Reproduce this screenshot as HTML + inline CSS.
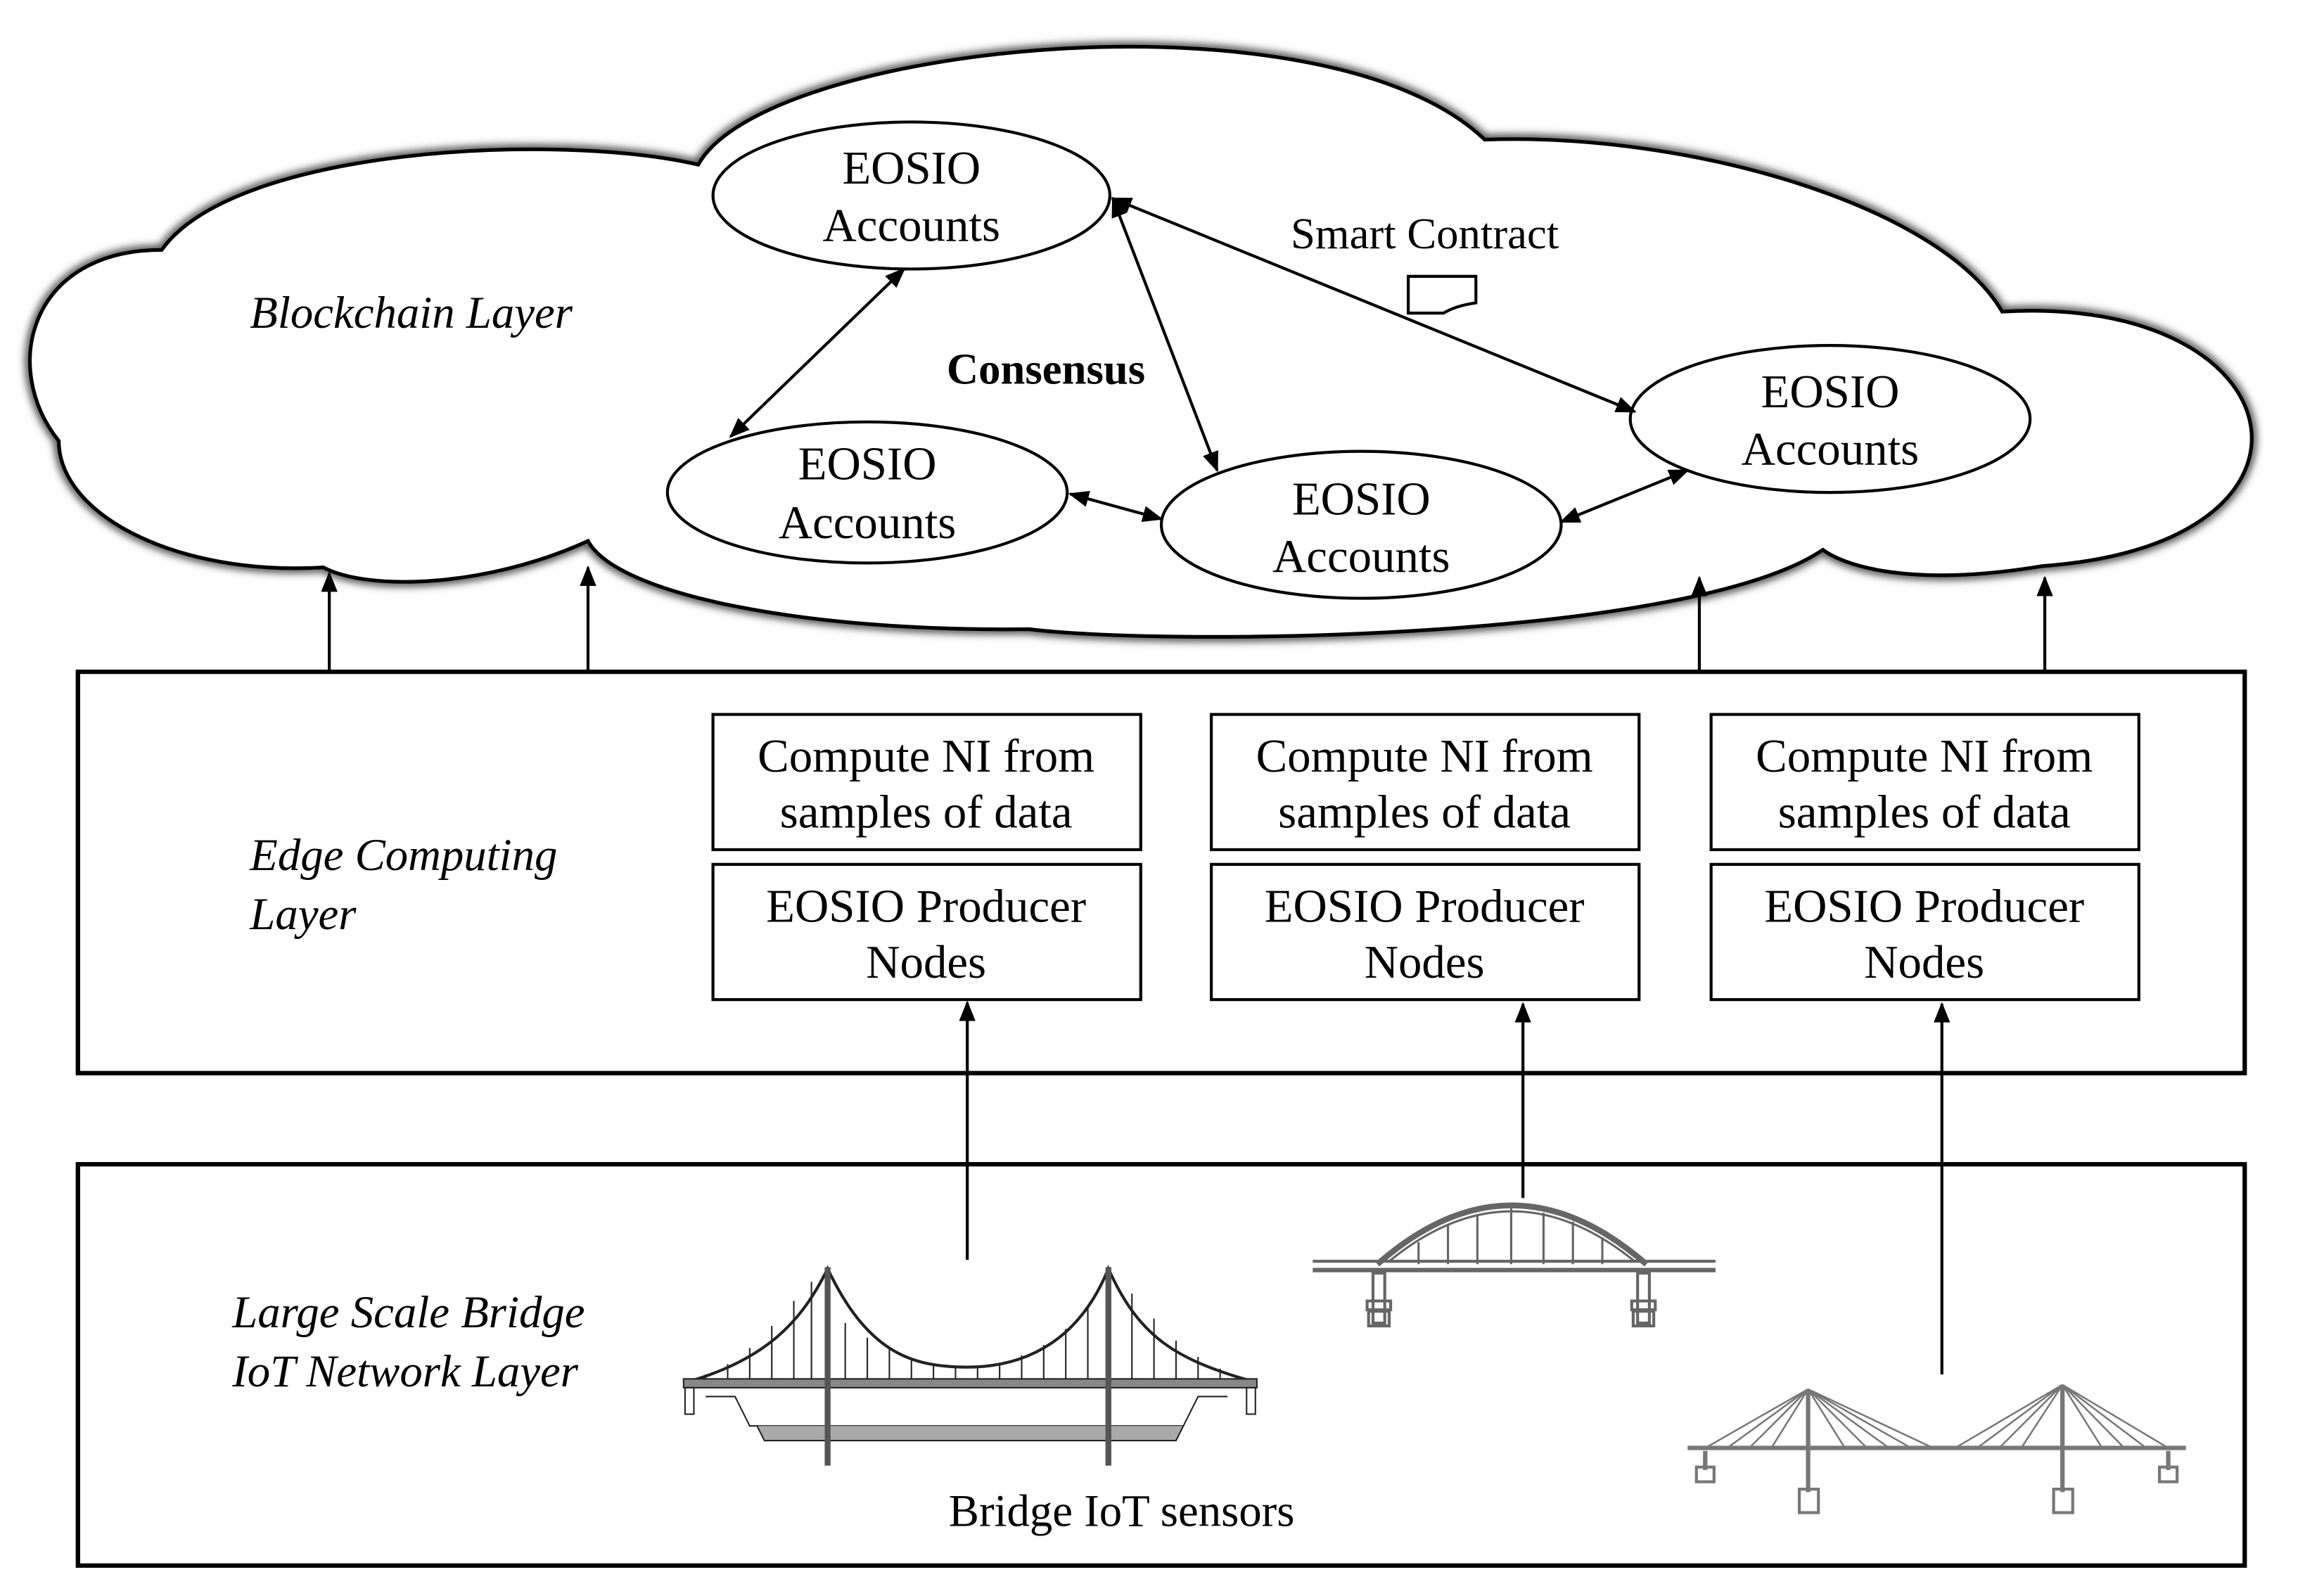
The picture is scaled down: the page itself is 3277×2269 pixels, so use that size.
<!DOCTYPE html>
<html><head><meta charset="utf-8"><style>
html,body{margin:0;padding:0;background:#fff}
svg{display:block}
text{font-family:"Liberation Serif",serif;fill:#000}
</style></head><body>
<svg width="3277" height="2269" viewBox="0 0 1568 1085.7" xmlns="http://www.w3.org/2000/svg">
<defs>
<marker id="a" viewBox="0 0 10 10" refX="9" refY="5" markerWidth="7" markerHeight="7" orient="auto-start-reverse"><path d="M0,1 L10,5 L0,9 z" fill="#000"/></marker>
<filter id="bl"><feGaussianBlur stdDeviation="2.5"/></filter>
</defs>
<rect width="1570" height="1090" fill="#fff"/>
<path d="M40,300 C0,250 20,170 110,170 C160,100 380,90 475,112 C520,30 900,-10 1010,95 C1150,90 1320,140 1362,212 C1565,200 1600,370 1390,385 C1300,400 1255,385 1240,374 C1150,435 800,440 700,428 C550,430 420,405 400,368 C330,400 250,402 220,386 C120,392 40,350 40,300 Z" fill="#fff" stroke="#555" stroke-width="7" filter="url(#bl)"/>
<path d="M40,300 C0,250 20,170 110,170 C160,100 380,90 475,112 C520,30 900,-10 1010,95 C1150,90 1320,140 1362,212 C1565,200 1600,370 1390,385 C1300,400 1255,385 1240,374 C1150,435 800,440 700,428 C550,430 420,405 400,368 C330,400 250,402 220,386 C120,392 40,350 40,300 Z" fill="#fff" stroke="#000" stroke-width="2.5"/>
<text x="170" y="223" font-size="31" font-style="italic">Blockchain Layer</text>
<g fill="#fff" stroke="#000" stroke-width="2">
<ellipse cx="620" cy="133" rx="135" ry="50"/>
<ellipse cx="590" cy="335" rx="136" ry="48"/>
<ellipse cx="926" cy="357" rx="136" ry="50"/>
<ellipse cx="1245" cy="285" rx="136" ry="50"/>
</g>
<g font-size="32" text-anchor="middle">
<text x="620" y="125">EOSIO</text><text x="620" y="164">Accounts</text>
<text x="590" y="326">EOSIO</text><text x="590" y="366">Accounts</text>
<text x="926" y="350">EOSIO</text><text x="926" y="389">Accounts</text>
<text x="1245" y="277">EOSIO</text><text x="1245" y="316">Accounts</text>
</g>
<text x="878" y="169" font-size="30">Smart Contract</text>
<text x="644" y="261" font-size="30" font-weight="bold">Consensus</text>
<path d="M958,188 L1004,188 L1004,206 Q990,208 982,213 L958,213 Z" fill="#fff" stroke="#000" stroke-width="2"/>
<g stroke="#000" stroke-width="2" marker-start="url(#a)" marker-end="url(#a)">
<line x1="615" y1="183" x2="497" y2="297"/>
<line x1="757" y1="135" x2="828" y2="320"/>
<line x1="757" y1="135" x2="1112" y2="280"/>
<line x1="728" y1="336" x2="790" y2="353"/>
<line x1="1062" y1="355" x2="1148" y2="320"/>
</g>
<g stroke="#000" stroke-width="2" marker-end="url(#a)">
<line x1="224" y1="456" x2="224" y2="390"/>
<line x1="400" y1="456" x2="400" y2="386"/>
<line x1="1156" y1="456" x2="1156" y2="393"/>
<line x1="1391" y1="456" x2="1391" y2="393"/>
</g>
<rect x="53" y="457" width="1474" height="273" fill="none" stroke="#000" stroke-width="3"/>
<text x="170" y="592" font-size="31" font-style="italic">Edge Computing</text>
<text x="170" y="632" font-size="31" font-style="italic">Layer</text>
<g fill="#fff" stroke="#000" stroke-width="2">
<rect x="485" y="486" width="291" height="92"/><rect x="485" y="588" width="291" height="92"/>
<rect x="824" y="486" width="291" height="92"/><rect x="824" y="588" width="291" height="92"/>
<rect x="1164" y="486" width="291" height="92"/><rect x="1164" y="588" width="291" height="92"/>
</g>
<g font-size="32" text-anchor="middle">
<text x="630" y="525">Compute NI from</text><text x="630" y="563">samples of data</text>
<text x="630" y="627">EOSIO Producer</text><text x="630" y="665">Nodes</text>
<text x="969" y="525">Compute NI from</text><text x="969" y="563">samples of data</text>
<text x="969" y="627">EOSIO Producer</text><text x="969" y="665">Nodes</text>
<text x="1309" y="525">Compute NI from</text><text x="1309" y="563">samples of data</text>
<text x="1309" y="627">EOSIO Producer</text><text x="1309" y="665">Nodes</text>
</g>
<rect x="53" y="792" width="1474" height="273" fill="none" stroke="#000" stroke-width="3"/>
<text x="158" y="903" font-size="31" font-style="italic">Large Scale Bridge</text>
<text x="158" y="943" font-size="31" font-style="italic">IoT Network Layer</text>
<text x="763" y="1038" font-size="31" text-anchor="middle">Bridge IoT sensors</text>
<g stroke="#000" stroke-width="2" marker-end="url(#a)">
<line x1="658" y1="857" x2="658" y2="682"/>
<line x1="1036" y1="815" x2="1036" y2="683"/>
<line x1="1321" y1="935" x2="1321" y2="683"/>
</g>
<g stroke="#222" fill="none">
<g stroke-width="1">
<path d="M575,900 L575,938 M590,910 L590,938 M605,918 L605,938 M620,924 L620,938 M635,928 L635,938 M650,929 L650,938 M665,929 L665,938 M680,927 L680,938 M695,922 L695,938 M710,915 L710,938 M725,904 L725,938 M740,888 L740,938"/>
<path d="M480,935 L480,938 M495,928 L495,938 M510,917 L510,938 M525,902 L525,938 M540,885 L540,938 M552,872 L552,938 M770,880 L770,938 M785,897 L785,938 M800,912 L800,938 M815,923 L815,938 M830,931 L830,938"/>
</g>
<path d="M468,940 C520,925 545,900 563,863 C590,920 620,930 658,930 C700,930 735,910 754,863 C775,910 800,925 853,940" stroke-width="2"/>
<rect x="465" y="938" width="390" height="6" fill="#888" stroke-width="1"/>
<path d="M480,950 L500,950 L510,970 L805,970 L815,950 L835,950" stroke-width="1"/>
<path d="M515,970 L520,980 L800,980 L805,970" fill="#aaa" stroke-width="1"/>
<rect x="561" y="862" width="4" height="135" fill="#555" stroke-width="0"/>
<rect x="752" y="862" width="4" height="135" fill="#555" stroke-width="0"/>
<rect x="466" y="944" width="6" height="18" stroke-width="1"/>
<rect x="848" y="944" width="6" height="18" stroke-width="1"/>
</g>
<g stroke="#666" fill="none">
<path d="M937,860 Q1028,780 1120,860" stroke-width="4"/>
<path d="M945,858 Q1028,790 1112,858" stroke-width="1.5"/>
<g stroke-width="1.5"><path d="M965,845 V860 M985,833 V860 M1005,826 V860 M1028,822 V860 M1050,825 V860 M1070,831 V860 M1090,842 V860"/></g>
<line x1="893" y1="858" x2="1167" y2="858" stroke-width="2"/>
<line x1="893" y1="864" x2="1167" y2="864" stroke-width="3"/>
<path d="M934,866 h8 v34 h-8 z M930,885 h16 v6 h-16 z M931,892 h14 v10 h-14 z" stroke-width="2"/>
<path d="M1114,866 h8 v34 h-8 z M1110,885 h16 v6 h-16 z M1111,892 h14 v10 h-14 z" stroke-width="2"/>
</g>
<g stroke="#777" fill="none" stroke-width="1.2">
<line x1="1148" y1="985" x2="1487" y2="985" stroke-width="3"/>
<path d="M1230,945 L1160,985 M1230,945 L1175,985 M1230,945 L1190,985 M1230,945 L1205,985 M1230,945 L1255,985 M1230,945 L1270,985 M1230,945 L1285,985 M1230,945 L1300,985 M1230,945 L1315,985"/>
<path d="M1403,942 L1330,985 M1403,942 L1345,985 M1403,942 L1360,985 M1403,942 L1375,985 M1403,942 L1430,985 M1403,942 L1445,985 M1403,942 L1460,985 M1403,942 L1475,985"/>
<path d="M1230,945 V1015 M1403,942 V1015" stroke-width="3"/>
<rect x="1224" y="1013" width="13" height="16" stroke-width="2"/>
<rect x="1397" y="1013" width="13" height="16" stroke-width="2"/>
<path d="M1160,987 V1000 M1475,987 V1000" stroke-width="3"/>
<rect x="1154" y="998" width="12" height="10" stroke-width="2"/>
<rect x="1469" y="998" width="12" height="10" stroke-width="2"/>
</g>
</svg>
</body></html>
